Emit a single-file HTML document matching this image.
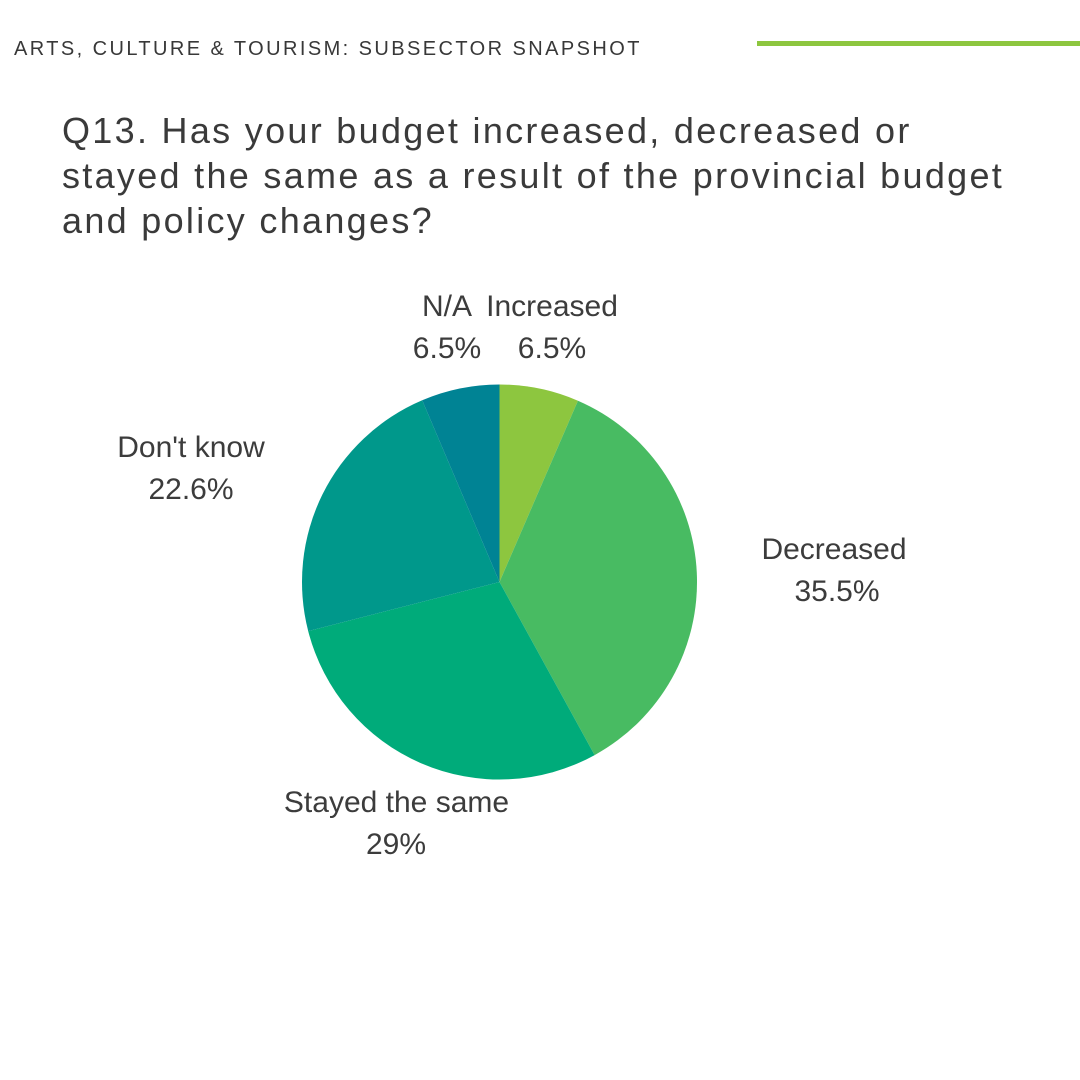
<!DOCTYPE html>
<html>
<head>
<meta charset="utf-8">
<style>
  html, body { margin: 0; padding: 0; background: #ffffff; }
  svg { display: block; }
</style>
</head>
<body>
<svg width="1080" height="1080" viewBox="0 0 1080 1080" xmlns="http://www.w3.org/2000/svg">
  <rect x="0" y="0" width="1080" height="1080" fill="#ffffff"/>
  <!-- header -->
  <text x="14" y="55" font-family="Liberation Sans, sans-serif" font-size="20" letter-spacing="2.42" fill="#383838">ARTS, CULTURE &amp; TOURISM: SUBSECTOR SNAPSHOT</text>
  <rect x="757" y="41" width="323" height="5" fill="#8DC63F"/>

  <!-- title -->
  <g font-family="Liberation Sans, sans-serif" font-size="36" letter-spacing="2.3" fill="#3a3a3a">
    <text x="62" y="143">Q13. Has your budget increased, decreased or</text>
    <text x="62" y="188">stayed the same as a result of the provincial budget</text>
    <text x="62" y="233">and policy changes?</text>
  </g>

  <!-- pie -->
  <g>
    <path d="M499.5,582 L499.5,384.5 A197.5,197.5 0 0 1 577.93,400.73 Z" fill="#8DC63F"/>
    <path d="M499.5,582 L577.93,400.73 A197.5,197.5 0 0 1 594.65,755.07 Z" fill="#48BB62"/>
    <path d="M499.5,582 L594.65,755.07 A197.5,197.5 0 0 1 308.2,631.12 Z" fill="#00AB7A"/>
    <path d="M499.5,582 L308.2,631.12 A197.5,197.5 0 0 1 422.2,400.26 Z" fill="#00988B"/>
    <path d="M499.5,582 L422.2,400.26 A197.5,197.5 0 0 1 499.5,384.5 Z" fill="#008394"/>
  </g>

  <!-- labels -->
  <g font-family="Liberation Sans, sans-serif" font-size="30" fill="#3c3c3c" text-anchor="middle">
    <text x="447" y="316">N/A</text>
    <text x="447" y="358">6.5%</text>
    <text x="552" y="316">Increased</text>
    <text x="552" y="358">6.5%</text>
    <text x="191" y="457">Don't know</text>
    <text x="191" y="499">22.6%</text>
    <text x="834" y="559">Decreased</text>
    <text x="837" y="601">35.5%</text>
    <text x="396.5" y="812">Stayed the same</text>
    <text x="396" y="854">29%</text>
  </g>
</svg>
</body>
</html>
